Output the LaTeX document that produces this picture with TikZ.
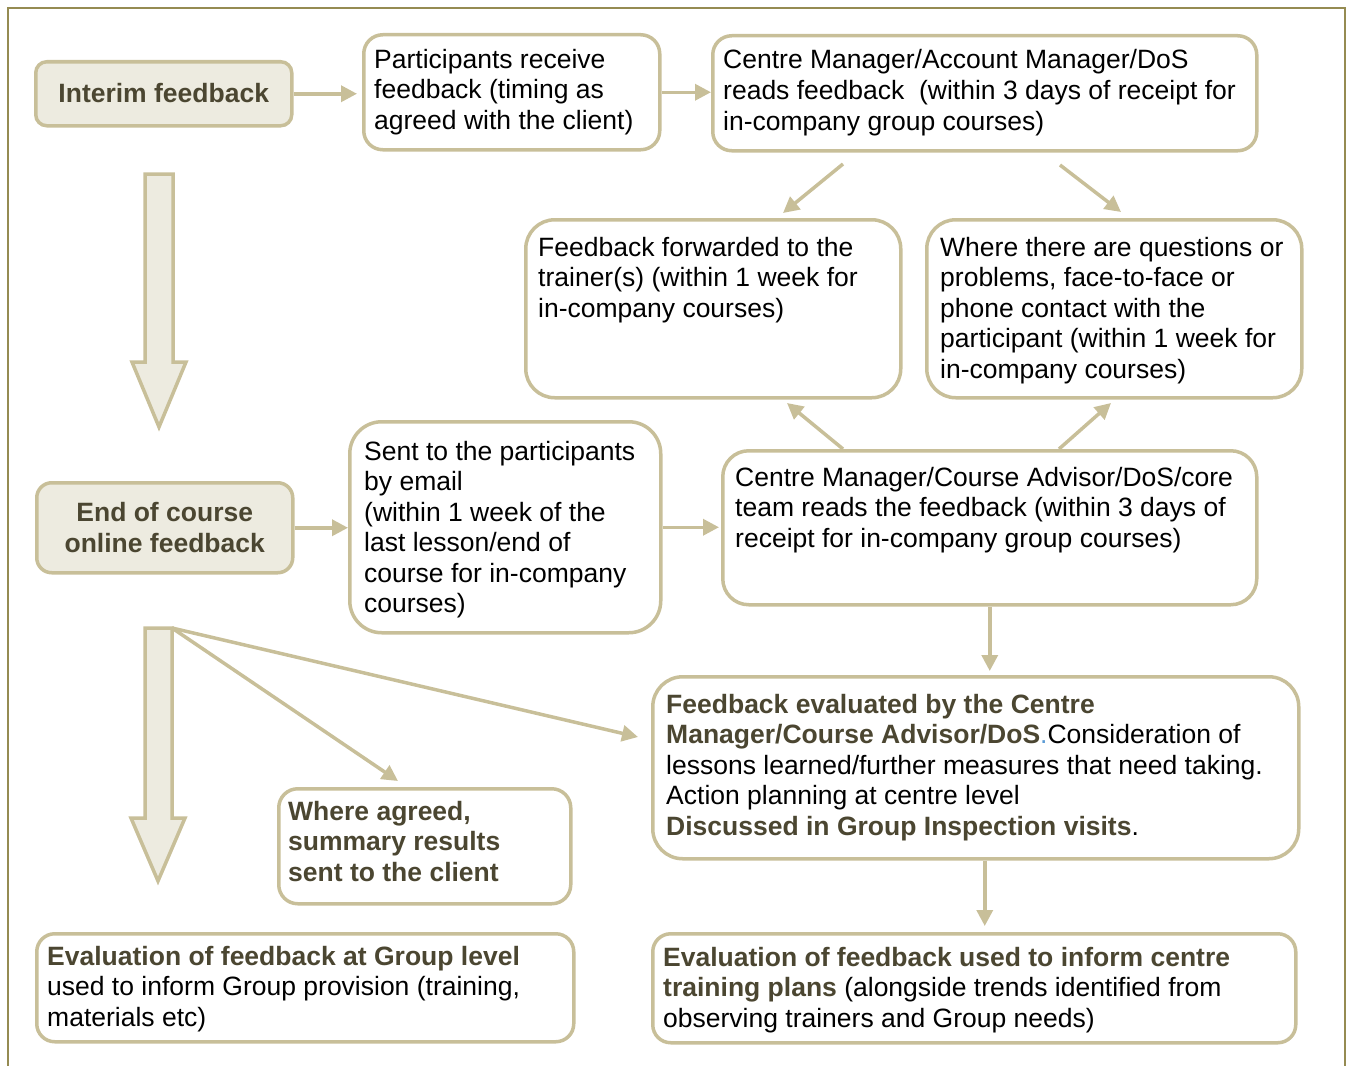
\documentclass[tikz,border=0pt]{standalone}
\usepackage{fontspec}
\setmainfont{Liberation Sans}
\usetikzlibrary{arrows.meta}
\definecolor{bordc}{HTML}{C8BF99}
\definecolor{boxfill}{HTML}{EDEBE0}
\definecolor{darkt}{HTML}{4B4631}
\definecolor{framec}{HTML}{958B52}
\definecolor{dotc}{HTML}{5B9BD5}
\newcommand\fs{\fontsize{26.5}{30.5}\selectfont}
\newcommand\lns[1]{\begin{tabular}[t]{@{}l@{}}#1\end{tabular}}
\newcommand\bt[1]{\textcolor{darkt}{\bfseries #1}}
\tikzset{
  x=1pt, y=-1pt,
  box/.style={draw=bordc, line width=3.5pt, fill=white, inner sep=0pt, anchor=north west},
  hbox/.style={box, fill=boxfill, font=\fs\bfseries, text=darkt, align=center},
  txt/.style={inner sep=0pt, anchor=base west, font=\fs, text=black},
  arr/.style={draw=bordc, line width=3.5pt, -{Triangle[length=16pt,width=16pt]}},
  fan/.style={draw=bordc, line width=3.5pt, -{Triangle[length=16pt,width=16pt]}},
  blockarrow/.style={draw=bordc, line width=3.5pt, fill=boxfill},
}
\begin{document}
\begin{tikzpicture}
\useasboundingbox (0,0) rectangle (1348,1065);
% frame
\draw[framec, line width=2pt] (8,1066) -- (8,8) -- (1345,8) -- (1345,1066);

% boxes
\node[hbox, minimum width=256pt, minimum height=64pt, rounded corners=11pt] (ifb) at (34,60) {\raisebox{2pt}{Interim feedback}};
\node[box, minimum width=296pt, minimum height=115pt, rounded corners=19pt] (ip) at (362,33) {};
\node[box, minimum width=544pt, minimum height=115pt, rounded corners=19pt] (cma) at (711,34) {};
\node[box, minimum width=375pt, minimum height=178pt, rounded corners=29pt] (ff) at (524,218) {};
\node[box, minimum width=375pt, minimum height=178pt, rounded corners=29pt] (wq) at (925,218) {};
\node[hbox, minimum width=256pt, minimum height=90pt, rounded corners=15pt] (eoc) at (35,481) {End of course\\online feedback};
\node[box, minimum width=311pt, minimum height=211pt, rounded corners=32pt] (sent) at (348,420) {};
\node[box, minimum width=534pt, minimum height=154pt, rounded corners=26pt] (cmr) at (721,449) {};
\node[box, minimum width=646pt, minimum height=182pt, rounded corners=30pt] (fe) at (651,675) {};
\node[box, minimum width=292pt, minimum height=115pt, rounded corners=19pt] (wa) at (277,787) {};
\node[box, minimum width=537pt, minimum height=108pt, rounded corners=18pt] (eg) at (35,932) {};
\node[box, minimum width=643pt, minimum height=109pt, rounded corners=18pt] (ec) at (651,932) {};

% texts
\node[txt] (ip-t) at ([shift={(12,35)}]ip.north west) {\lns{Participants receive\\ feedback (timing as\\ agreed with the client)}};
\node[txt] (cma-t) at ([shift={(12,35)}]cma.north west) {\lns{Centre Manager/Account Manager/DoS\\ reads feedback\ \ (within 3 days of receipt for\\ in-company group courses)}};
\node[txt] (ff-t) at ([shift={(14,38)}]ff.north west) {\lns{Feedback forwarded to the\\ trainer(s) (within 1 week for\\ in-company courses)}};
\node[txt] (wq-t) at ([shift={(15,38)}]wq.north west) {\lns{Where there are questions or\\ problems, face-to-face or\\ phone contact with the\\ participant (within 1 week for\\ in-company courses)}};
\node[txt] (sent-t) at ([shift={(16,40)}]sent.north west) {\lns{Sent to the participants\\ by email\\ (within 1 week of the\\ last lesson/end of\\ course for in-company\\ courses)}};
\node[txt] (cmr-t) at ([shift={(14,37)}]cmr.north west) {\lns{Centre Manager/Course Advisor/DoS/core\\ team reads the feedback (within 3 days of\\ receipt for in-company group courses)}};
\node[txt] (fe-t) at ([shift={(15,38)}]fe.north west) {\lns{\bt{Feedback evaluated by the Centre}\\ \bt{Manager/Course Advisor/DoS}\textcolor{dotc}{.}Consideration of\\ lessons learned/further measures that need taking.\\ Action planning at centre level\\ \bt{Discussed in Group Inspection visits}.}};
\node[txt] (wa-t) at ([shift={(11,33)}]wa.north west) {\lns{\bt{Where agreed,}\\ \bt{summary results}\\ \bt{sent to the client}}};
\node[txt] (eg-t) at ([shift={(12,33)}]eg.north west) {\lns{\bt{Evaluation of feedback at Group level}\\ used to inform Group provision (training,\\ materials etc)}};
\node[txt] (ec-t) at ([shift={(12,34)}]ec.north west) {\lns{\bt{Evaluation of feedback used to inform centre}\\ \bt{training plans} (alongside trends identified from\\ observing trainers and Group needs)}};

% block arrows
\draw[blockarrow] (145,174) -- (173,174) -- (173,362) -- (186,362) -- (159,427) -- (132,362) -- (145,362) -- cycle;
\draw[blockarrow] (145,628) -- (172,628) -- (172,818) -- (185,818) -- (158,881) -- (131,818) -- (145,818) -- cycle;

% coordinates for free connector ends
\coordinate (d1s) at (843,164);
\coordinate (d1e) at (783,213);
\coordinate (d2s) at (1060,165);
\coordinate (d2e) at (1121,212);
\coordinate (u1s) at (843,449);
\coordinate (u1e) at (787,403);
\coordinate (u2s) at (1059,449);
\coordinate (u2e) at (1111,403);
\coordinate (fo) at (172,628);
\coordinate (f1e) at (398,781);
\coordinate (f2e) at (638,737);

% connectors
\draw[arr, shorten >=5pt] (ifb.east) -- (ifb.east -| ip.west);
\draw[arr] (ip.east) -- (ip.east -| cma.west);
\draw[arr] (eoc.east) -- (eoc.east -| sent.west);
\draw[arr, shorten >=2pt] (sent.east) -- (sent.east -| cmr.west);
\draw[arr, shorten >=4pt] (cmr.south) -- (cmr.south |- fe.north);
\draw[arr, shorten >=6pt] ([xshift=9pt]fe.south) -- ([xshift=9pt]fe.south |- ec.north);
\draw[arr] (d1s) -- (d1e);
\draw[arr] (d2s) -- (d2e);
\draw[arr] (u1s) -- (u1e);
\draw[arr] (u2s) -- (u2e);
\draw[fan] (fo) -- (f1e);
\draw[fan] (fo) -- (f2e);
\end{tikzpicture}
\end{document}
